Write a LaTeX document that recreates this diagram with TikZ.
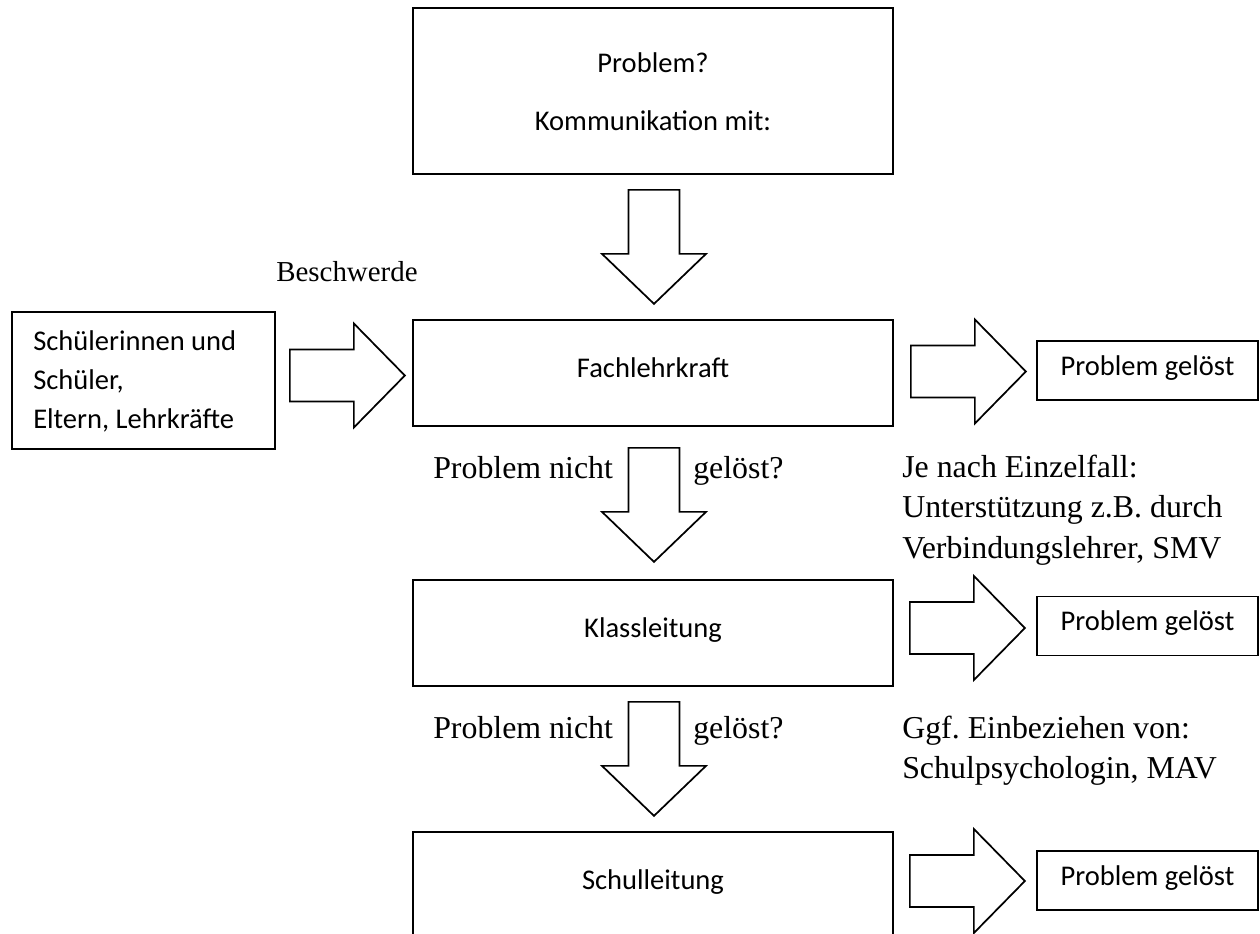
\documentclass[tikz,border=0pt]{standalone}
\usepackage{fontspec}
\setmainfont{Liberation Serif}
\newfontfamily\calfont{Carlito}
\usetikzlibrary{calc}
\frenchspacing
\begin{document}
\begin{tikzpicture}[x=0.75pt,y=-0.75pt,
  outline/.style={draw, line width=1.3pt},
  box/.style={outline, inner sep=0pt, font=\calfont\fontsize{21.4}{25}\selectfont, text height=0.95em, text depth=0.25em},
  mainbox/.style={box, minimum width=360pt, minimum height=79.5pt},
  okbox/.style={box, minimum width=165.75pt, minimum height=44.25pt},
  caltext/.style={inner sep=0pt, anchor=base, font=\calfont\fontsize{21.4}{25}\selectfont},
  calleft/.style={inner sep=0pt, anchor=base west, font=\calfont\fontsize{21.4}{25}\selectfont},
  serif/.style={inner sep=0pt, anchor=base west, font=\fontsize{23.9}{28}\selectfont},
  serifsmall/.style={inner sep=0pt, anchor=base west, font=\fontsize{21.7}{26}\selectfont},
  downarrow/.pic={\draw[outline, line join=miter] (-25.5,0) -- (25.5,0) -- (25.5,64) -- (52,64) -- (0,114) -- (-52,64) -- (-25.5,64) -- cycle;},
  rightarrow/.pic={\draw[outline, line join=miter] (0,-26) -- (64,-26) -- (64,-52) -- (115,0) -- (64,52) -- (64,26) -- (0,26) -- cycle;}
]
\useasboundingbox (0,0) rectangle (1260,933);
\clip (0,0) rectangle (1260,933);

% main column boxes
\node[outline, inner sep=0pt, minimum width=360pt, minimum height=124.5pt] (top) at (653,91) {};
\node[caltext] (t1) at (653,72) {Problem?};
\node[caltext] (t2) at (653,130) {Kommunikation mit:};

\node[mainbox] (fach) at (653,373) {Fachlehrkraft};
\node[mainbox] (klass) at (653,633) {Klassleitung};
\node[mainbox] (schul) at (653,885) {Schulleitung};

% left source box
\node[outline, inner sep=0pt, minimum width=197.25pt, minimum height=102.75pt] (src) at (143.5,380.5) {};
\node[calleft] (s1) at (33,350) {Schülerinnen und};
\node[calleft] (s2) at (33,389) {Schüler,};
\node[calleft] (s3) at (33,428) {Eltern, Lehrkräfte};
\node[serifsmall] (besch) at (276,281) {Beschwerde};

% result boxes
\node[okbox] (ok1) at (1147.5,370.5) {Problem gelöst};
\node[okbox] (ok2) at (1147.5,626) {Problem gelöst};
\node[okbox] (ok3) at (1147.5,880.5) {Problem gelöst};

% block arrows
\pic at ($(top.south)+(1,15)$) {downarrow};
\pic at ($(fach.south)+(1,21)$) {downarrow};
\pic at ($(klass.south)+(1,15)$) {downarrow};
\pic at ($(src.east)+(14,-5)$) {rightarrow};
\pic at ($(fach.east)+(17,-1.5)$) {rightarrow};
\pic at ($(klass.east)+(16,-5)$) {rightarrow};
\pic at ($(schul.east)+(16,-4)$) {rightarrow};

% labels
\node[serif] (pn1) at (433,478) {Problem nicht};
\node[serif] (pg1) at (693,478) {gelöst?};
\node[serif] (pn2) at (433,738) {Problem nicht};
\node[serif] (pg2) at (693,738) {gelöst?};

\node[serif] (r1) at (902,477) {Je nach Einzelfall:};
\node[serif] (r2) at (902,517) {Unterstützung z.B. durch};
\node[serif] (r3) at (902,558) {Verbindungslehrer, SMV};
\node[serif] (r4) at (902,738) {Ggf. Einbeziehen von:};
\node[serif] (r5) at (902,778) {Schulpsychologin, MAV};
\end{tikzpicture}
\end{document}
